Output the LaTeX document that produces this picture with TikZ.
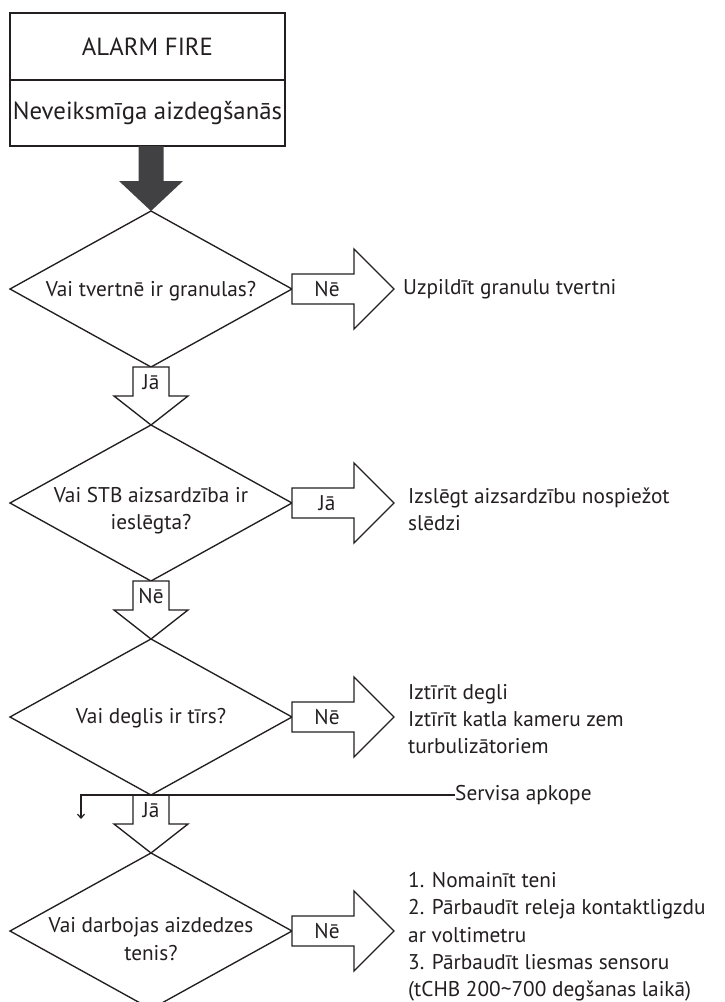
\documentclass[tikz,border=0pt]{standalone}
\usepackage{fontspec}
\setmainfont{PT Sans}
\usetikzlibrary{shapes.geometric,calc,arrows.meta}
\definecolor{ink}{HTML}{231F20}
\definecolor{darkfill}{HTML}{414042}
\newcommand\bodyfont{\fontsize{21.3}{27.3}\selectfont}
\newcommand\titlefont{\fontsize{24.8}{30}\selectfont}
\newcommand\downblk[3]{%
  \draw[blk] ($(#1.south)+(-18,0)$) -- ($(#1.south)+(18,0)$) -- ($(#1.south)+(18,29)$) -- ($(#1.south)+(37,29)$) -- (#2.north) -- ($(#1.south)+(-37,29)$) -- ($(#1.south)+(-18,29)$) -- cycle;
  \node[lbl] (#1dl) at ($(#1.south)+(0,15)$) {#3};}
\newcommand\rightblk[2]{%
  \draw[blk] ($(#1.east)+(0,-15)$) -- ($(#1.east)+(62,-15)$) -- ($(#1.east)+(62,-40)$) -- ($(#1.east)+(102,0)$) -- ($(#1.east)+(62,40)$) -- ($(#1.east)+(62,15)$) -- ($(#1.east)+(0,15)$) -- cycle;
  \node[lbl] (#1rl) at ($(#1.east)+(35,0)$) {#2};}
\begin{document}
\begin{tikzpicture}[x=1pt,y=-1pt,
  dia/.style={draw=ink, line width=1.35pt, shape=diamond, minimum width=282pt, minimum height=156pt, inner sep=0pt, outer sep=0pt},
  box/.style={draw=ink, line width=1.9pt, minimum width=275pt, inner sep=0pt, outer sep=0pt, font=\titlefont, text=ink},
  blk/.style={draw=ink, line width=1.35pt, fill=white, line join=miter},
  lbl/.style={font=\bodyfont, text=ink, inner sep=0pt, align=center},
  side/.style={font=\bodyfont, text=ink, inner sep=0pt, align=left, anchor=west},
  thinline/.style={draw=ink, line width=1.2pt}]
\useasboundingbox (0,0) rectangle (724,1002);
\fill[white] (0,0) rectangle (724,1002);
% title boxes
\node[box, minimum height=67pt] (a1) at (147.5,46.5) {ALARM FIRE};
\node[box, minimum height=66pt] (a2) at (147.5,113) {Neveiksmīga aizdegšanās};
% diamonds
\node[dia] (d1) at (151,289) {};
\node[dia] (d2) at (151,503) {};
\node[dia] (d3) at (151,717) {};
\node[dia] (d4) at (151,931) {};
\node[lbl] (q1) at (151,291) {Vai tvertnē ir granulas?};
\node[lbl] (q2) at (151,511) {Vai STB aizsardzība ir\\ieslēgta?};
\node[lbl] (q3) at (151,718) {Vai deglis ir tīrs?};
\node[lbl] (q4) at (151,939) {Vai darbojas aizdedzes\\tenis?};
% dark arrow from the title box to the first question
\fill[darkfill] ($(d1.north)+(-12.5,-65)$) -- ($(d1.north)+(12.5,-65)$) -- ($(d1.north)+(12.5,-30)$) -- ($(d1.north)+(32,-30)$) -- (d1.north) -- ($(d1.north)+(-32,-30)$) -- ($(d1.north)+(-12.5,-30)$) -- cycle;
% vertical block arrows
\downblk{d1}{d2}{Jā}
\downblk{d2}{d3}{Nē}
\downblk{d3}{d4}{Jā}
% horizontal block arrows
\rightblk{d1}{Nē}
\rightblk{d2}{Jā}
\rightblk{d3}{Nē}
\rightblk{d4}{Nē}
% side texts
\node[side] (r1) at (403,289) {Uzpildīt granulu tvertni};
\node[side] (r2) at (408,509) {Izslēgt aizsardzību nospiežot\\slēdzi};
\node[side] (r3) at (408,719) {Iztīrīt degli\\Iztīrīt katla kameru zem\\turbulizātoriem};
\node[side] (r4) at (408,937) {1. Nomainīt teni\\2. Pārbaudīt releja kontaktligzdu\\ar voltimetru\\3. Pārbaudīt liesmas sensoru\\(tCHB 200\textasciitilde700 degšanas laikā)};
% service line
\node[side] (sv) at (455,795) {Servisa apkope};
\coordinate (svl) at (81,795);
\coordinate (svd) at (81,819);
\draw[thinline, -{Straight Barb[length=4pt,width=7pt]}] (sv.west) -- (svl) -- (svd);
\end{tikzpicture}
\end{document}
